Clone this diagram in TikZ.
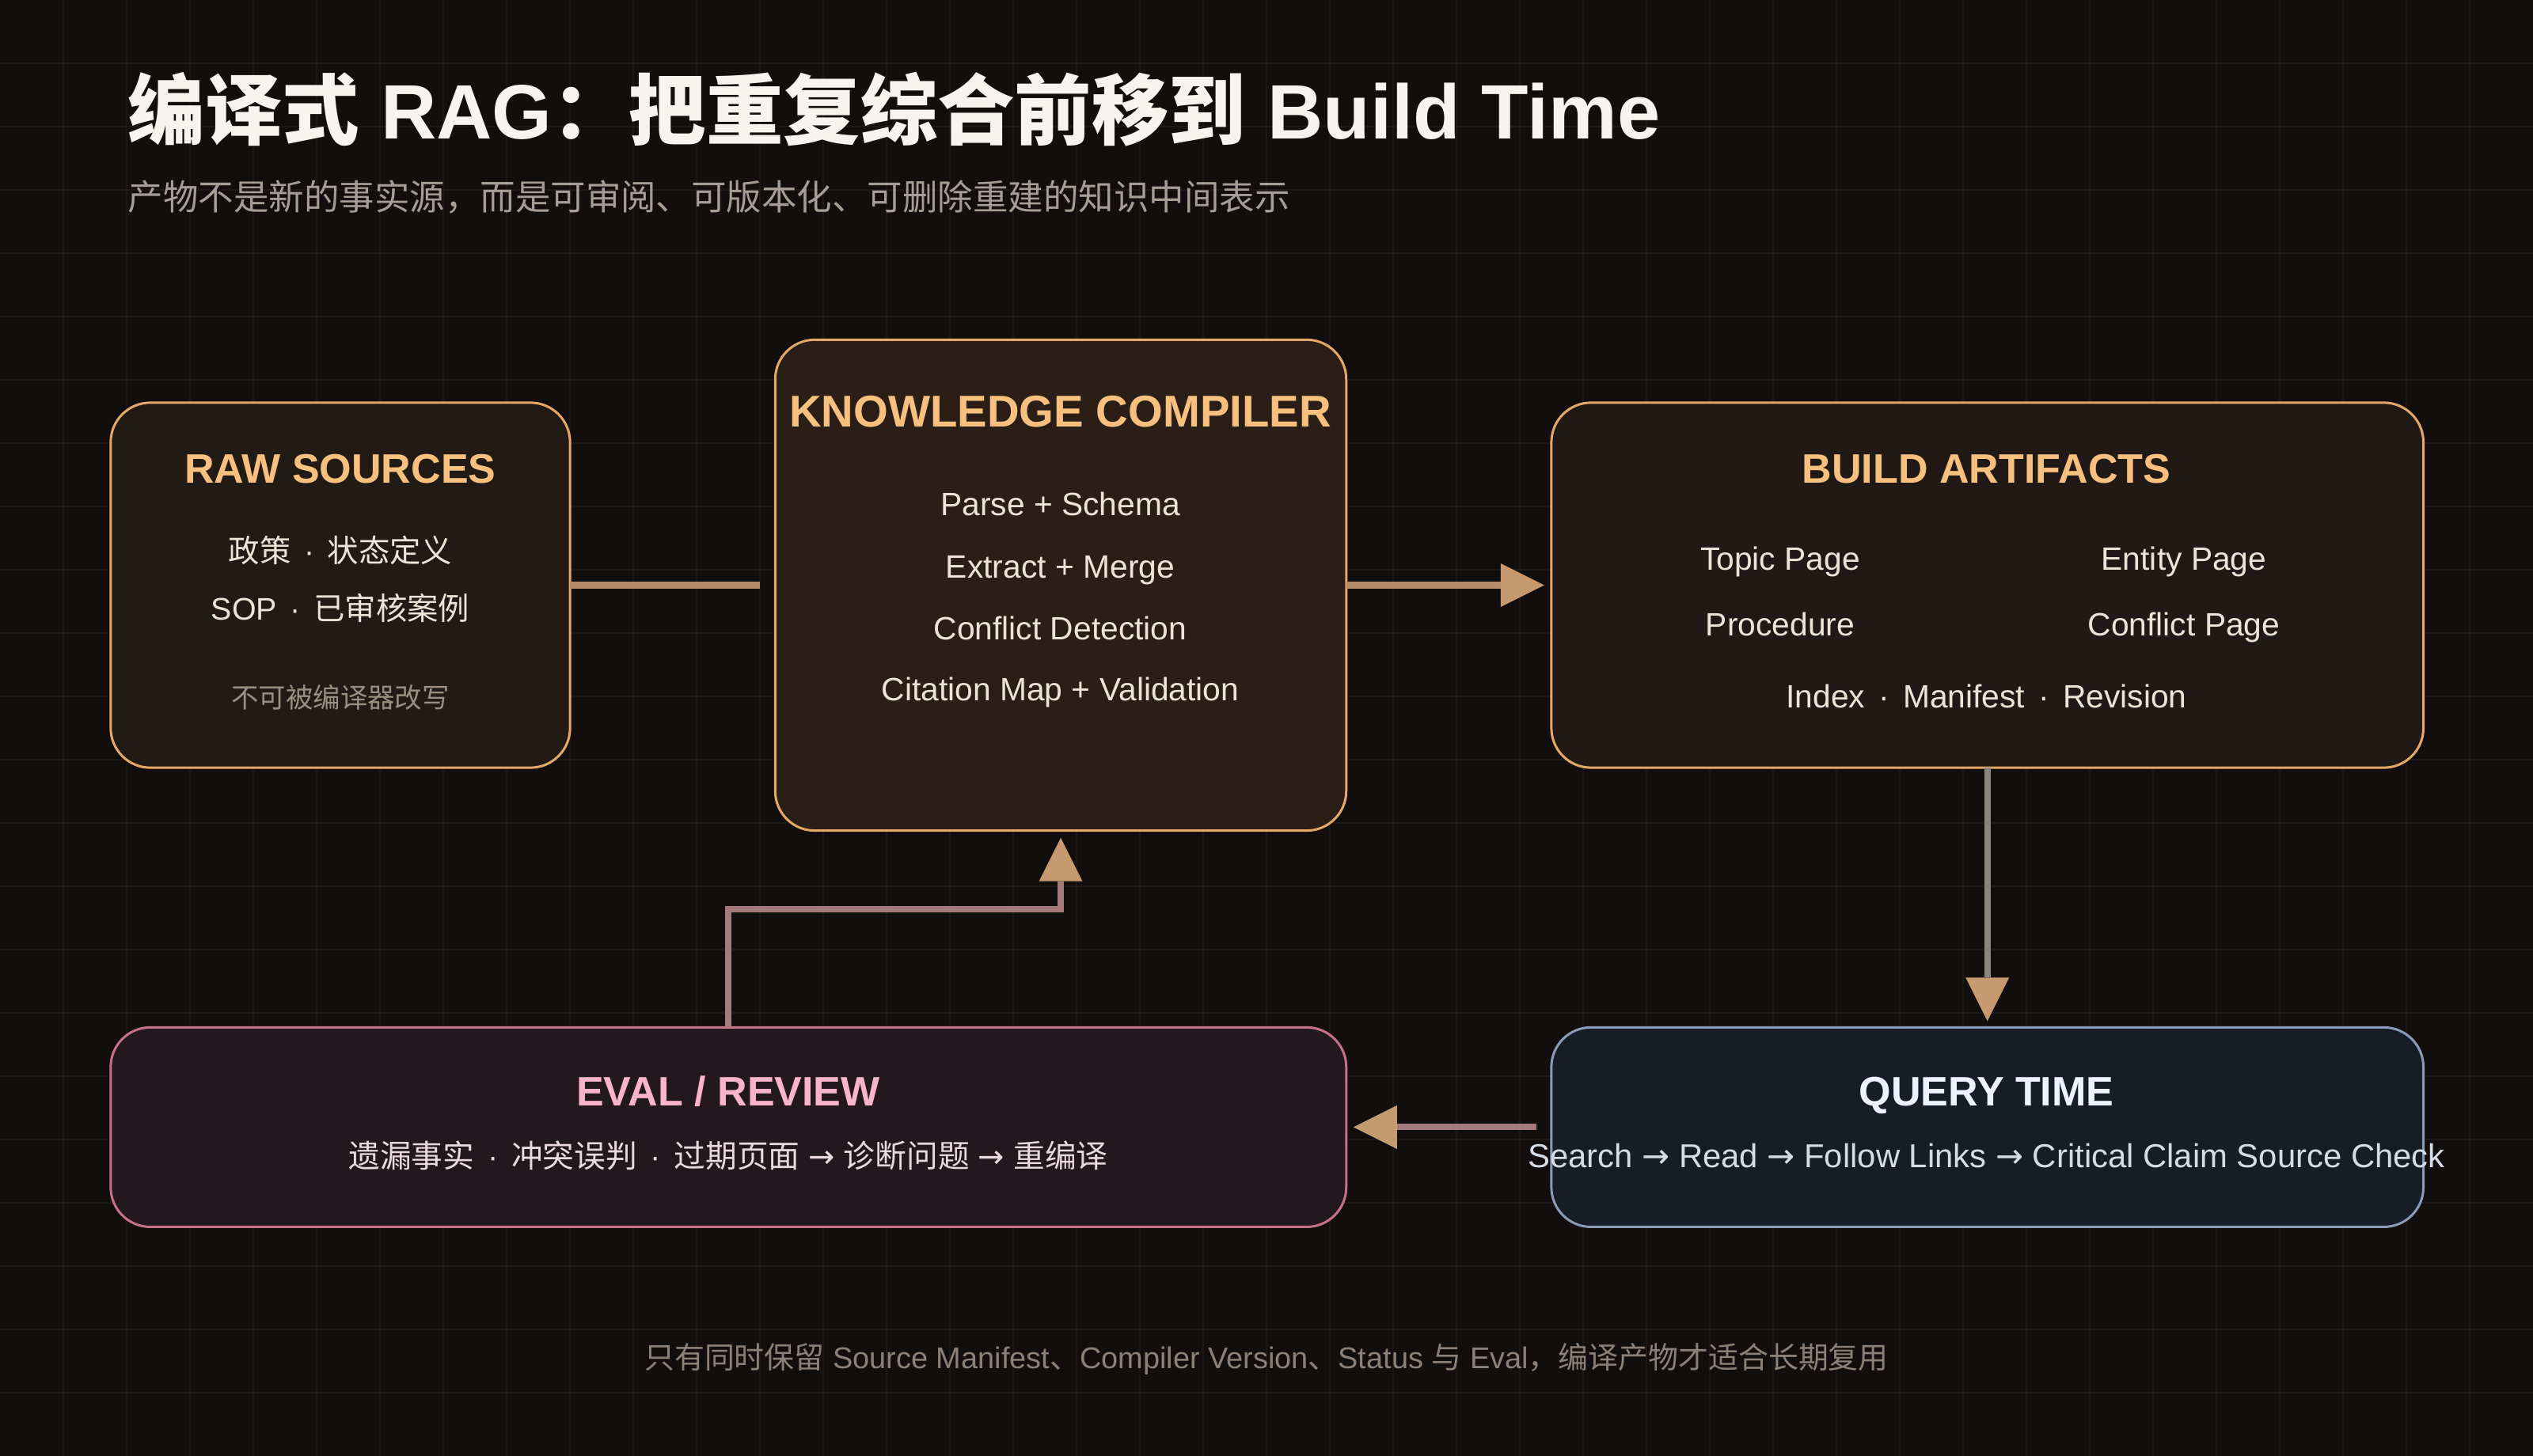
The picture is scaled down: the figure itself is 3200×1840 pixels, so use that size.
\documentclass[tikz,border=0pt]{standalone}
\usepackage{fontspec}
\setmainfont{Liberation Sans}
\newfontfamily\zh{Noto Sans CJK SC}
\newfontfamily\sym{DejaVu Sans}
\usepackage{xcolor}
\usepackage{tikz}
\usetikzlibrary{arrows.meta,positioning}

\definecolor{bgcol}{HTML}{110E0D}
\definecolor{gridcol}{HTML}{1C1816}
\definecolor{rawfill}{HTML}{221A15}
\definecolor{compfill}{HTML}{2A1E16}
\definecolor{artfill}{HTML}{211915}
\definecolor{evalfill}{HTML}{22181D}
\definecolor{qryfill}{HTML}{171D26}
\definecolor{tanline}{HTML}{E5A866}
\definecolor{pinkline}{HTML}{C8708A}
\definecolor{blueline}{HTML}{8A9BB8}
\definecolor{tantxt}{HTML}{F8C07E}
\definecolor{pinktxt}{HTML}{F8B4C8}
\definecolor{icetxt}{HTML}{EEF2FF}
\definecolor{ink}{HTML}{EDE3D6}
\definecolor{pinkink}{HTML}{EAD9DD}
\definecolor{blueink}{HTML}{D5DCE6}
\definecolor{muted}{HTML}{9C8E80}
\definecolor{subgray}{HTML}{A59D96}
\definecolor{footgray}{HTML}{8C8178}
\definecolor{headwhite}{HTML}{F7F3EE}
\definecolor{linetan}{HTML}{B48C68}
\definecolor{tiptan}{HTML}{C49A6E}
\definecolor{linegray}{HTML}{8C847E}
\definecolor{linepink}{HTML}{A57A7A}

\newcommand{\toarr}{{\sym →}}
\newcommand{\sep}{\hspace{0.42em}·\hspace{0.42em}}

\begin{document}
\begin{tikzpicture}[x=0.01cm, y=-0.01cm,
    node distance=3.28cm and 2.59cm,
    box/.style={rectangle, rounded corners=0.5cm, line width=0.03cm, outer sep=0pt, inner sep=0pt},
    rawbox/.style={box, draw=tanline, fill=rawfill},
    compbox/.style={box, draw=tanline, fill=compfill},
    artbox/.style={box, draw=tanline, fill=artfill},
    evalbox/.style={box, draw=pinkline, fill=evalfill},
    qrybox/.style={box, draw=blueline, fill=qryfill},
    hd/.style={font=\bfseries\fontsize{14.8}{18}\selectfont, text=tantxt, anchor=base, inner sep=0pt},
    txt/.style={font=\fontsize{11.6}{14}\selectfont, text=ink, anchor=base, inner sep=0pt},
    dim/.style={font=\fontsize{9.8}{12}\selectfont, text=muted, anchor=base, inner sep=0pt},
    gridln/.style={draw=gridcol, line width=0.02cm},
    arr/.style={-{Triangle[length=0.55cm, width=0.55cm, line width=0pt, color=tiptan]}, line width=0.08cm, draw=linetan}
]
    % background and grid
    \fill [bgcol] (0,0) rectangle (3200,1840);
    \useasboundingbox (0,0) rectangle (3200,1840);
    \foreach \gx in {80,160,...,3120} \draw [gridln] (\gx,0) -- (\gx,1840);
    \foreach \gy in {80,160,...,1760} \draw [gridln] (0,\gy) -- (3200,\gy);

    % heading
    \node [anchor=base west, inner sep=0pt, text=headwhite, font=\bfseries\fontsize{27.7}{33}\selectfont] (title) at (161,176)
        {{\zh 编译式} RAG{\zh ：把重复综合前移到} Build Time};
    \node [anchor=base west, inner sep=0pt, text=subgray, font=\zh\fontsize{12.65}{16}\selectfont] (subtitle) at (161,266)
        {产物不是新的事实源，而是可审阅、可版本化、可删除重建的知识中间表示};

    % boxes
    \node [rawbox, minimum width=5.8cm, minimum height=4.61cm] (raw) at (430,739.5) {};
    \node [compbox, right=of raw, minimum width=7.21cm, minimum height=6.2cm] (comp) {};
    \node [artbox, right=of comp, minimum width=11.01cm, minimum height=4.61cm] (art) {};
    \node [qrybox, below=of art, minimum width=11.01cm, minimum height=2.52cm] (qry) {};
    \node [evalbox, left=of qry, minimum width=15.6cm, minimum height=2.52cm] (eval) {};

    % raw sources
    \node [hd] (rawhd) at (430,611) {RAW SOURCES};
    \node [txt, font=\fontsize{11.2}{14}\selectfont] (raw1) at (430,710) {{\zh 政策}\sep{\zh 状态定义}};
    \node [txt, font=\fontsize{11.2}{14}\selectfont] (raw2) at (430,784) {SOP\sep{\zh 已审核案例}};
    \node [dim] (raw3) at (430,894) {\zh 不可被编译器改写};

    % compiler
    \node [hd, font=\bfseries\fontsize{16}{19}\selectfont] (comphd) at (1339.5,540) {KNOWLEDGE COMPILER};
    \node [txt] (comp1) at (1339.5,652) {Parse + Schema};
    \node [txt] (comp2) at (1339.5,730) {Extract + Merge};
    \node [txt] (comp3) at (1339.5,808) {Conflict Detection};
    \node [txt] (comp4) at (1339.5,885) {Citation Map + Validation};

    % artifacts
    \node [hd] (arthd) at (2509.5,611) {BUILD ARTIFACTS};
    \node [txt] (art1) at (2249,720) {Topic Page};
    \node [txt] (art2) at (2759,720) {Entity Page};
    \node [txt] (art3) at (2249,804) {Procedure};
    \node [txt] (art4) at (2759,804) {Conflict Page};
    \node [txt] (art5) at (2509.5,894) {Index\sep Manifest\sep Revision};

    % eval / query
    \node [hd, text=pinktxt] (evalhd) at (920,1397) {EVAL / REVIEW};
    \node [txt, text=pinkink, font=\fontsize{11.3}{14}\selectfont] (eval1) at (920,1475)
        {{\zh 遗漏事实}\sep{\zh 冲突误判}\sep{\zh 过期页面} \toarr{} {\zh 诊断问题} \toarr{} {\zh 重编译}};
    \node [hd, text=icetxt] (qryhd) at (2509.5,1397) {QUERY TIME};
    \node [txt, text=blueink, font=\fontsize{11.9}{14}\selectfont] (qry1) at (2509.5,1475)
        {Search \toarr{} Read \toarr{} Follow Links \toarr{} Critical Claim Source Check};

    % footer
    \node [anchor=base, inner sep=0pt, text=footgray, font=\fontsize{10.78}{13}\selectfont] (foot) at (1600,1729)
        {{\zh 只有同时保留} Source Manifest{\zh 、}Compiler Version{\zh 、}Status {\zh 与} Eval{\zh ，编译产物才适合长期复用}};

    % connectors
    \draw [arr, -, shorten >=0.19cm] (raw.east) -- (comp.west);
    \draw [arr, shorten >=0.09cm] (comp.east) -- (art.west);
    \draw [arr, draw=linegray, shorten >=0.08cm] (art.south) -- (qry.north);
    \draw [arr, draw=linepink, shorten <=0.19cm, shorten >=0.09cm] (qry.west) -- (eval.east);
    \draw [arr, draw=linepink, shorten >=0.09cm] (eval.north) -- ++(0,-149) -| (comp.south);
\end{tikzpicture}
\end{document}
